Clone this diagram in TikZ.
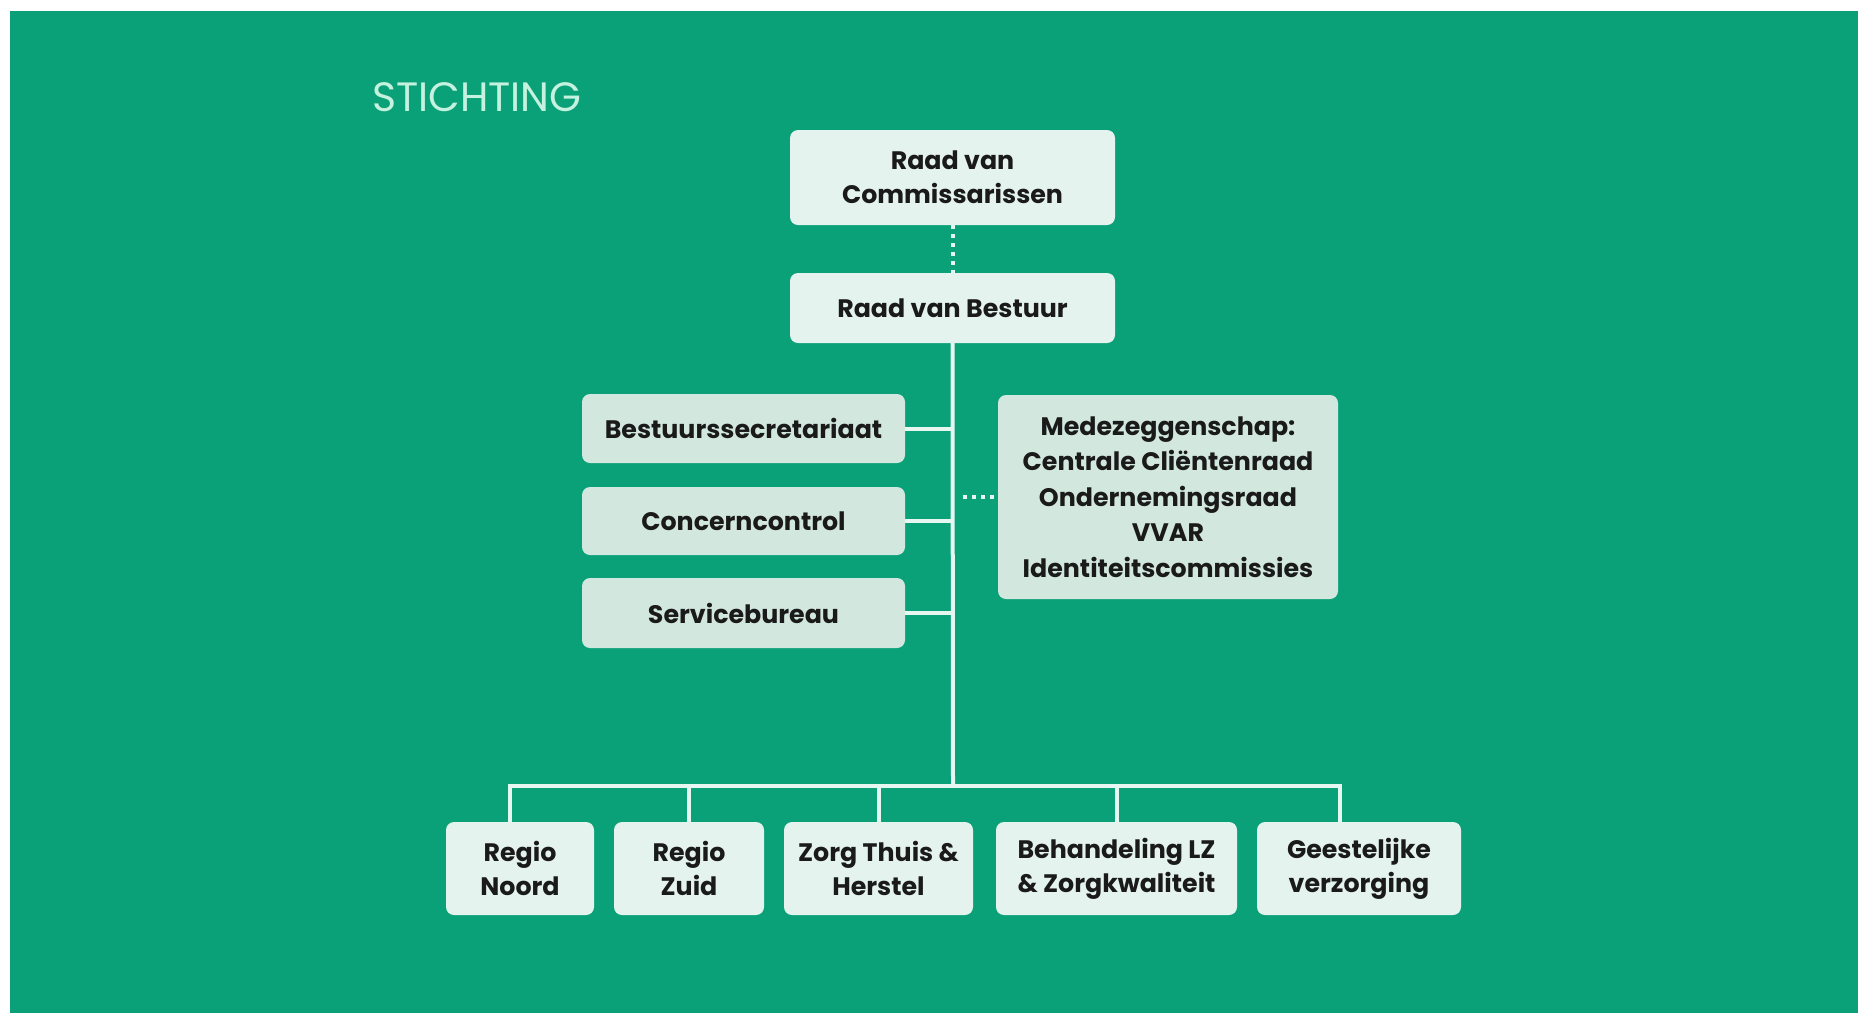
\documentclass[tikz,border=0pt]{standalone}
\usepackage{fontspec}
\setmainfont{Poppins}
\definecolor{bggreen}{HTML}{0AA078}
\definecolor{boxA}{HTML}{E4F3EE}
\definecolor{boxB}{HTML}{D2E8DF}
\definecolor{linec}{HTML}{E6F7F1}
\definecolor{titlec}{HTML}{C4F2DF}
\definecolor{txt}{HTML}{1A1A1A}
\tikzset{
  orgbox/.style={fill=boxA, rounded corners=8pt, align=center, text=txt, inner sep=0pt,
    font=\bfseries\fontsize{25.3}{34}\selectfont},
  orgboxB/.style={orgbox, fill=boxB},
  conn/.style={draw=linec, line width=4pt},
  dotconn/.style={draw=linec, line width=4pt, dash pattern=on 4pt off 5pt}
}
\begin{document}
\begin{tikzpicture}[x=1pt,y=-1pt]
\useasboundingbox (0,0) rectangle (1858,1013);
\fill[white] (0,0) rectangle (1858,1013);
\fill[bggreen] (10,11) rectangle (1858,1013);

\node[anchor=base west, text=titlec, font=\fontsize{41}{46}\selectfont, inner sep=0pt] (title) at (372,111) {STICHTING};

\node[orgbox, minimum width=325pt, minimum height=95pt] (rvc) at (952.5,177.5) {Raad van\\Commissarissen};
\node[orgbox, minimum width=325pt, minimum height=70pt] (rvb) at (952.5,308) {Raad van Bestuur};

\node[orgboxB, minimum width=323pt, minimum height=69pt] (bs) at (743.5,428.5) {Bestuurssecretariaat};
\node[orgboxB, minimum width=323pt, minimum height=68pt] (cc) at (743.5,521) {Concerncontrol};
\node[orgboxB, minimum width=323pt, minimum height=70pt] (sb) at (743.5,613) {Servicebureau};

\node[orgboxB, minimum width=340pt, minimum height=204pt, font=\bfseries\fontsize{25.3}{35.5}\selectfont] (mz) at (1168,497)
  {Medezeggenschap:\\Centrale Cliëntenraad\\Ondernemingsraad\\VVAR\\Identiteitscommissies};

\node[orgbox, minimum width=148pt, minimum height=93pt] (noord) at (520,868.5) {Regio\\Noord};
\node[orgbox, minimum width=150pt, minimum height=93pt] (zuid) at (689,868.5) {Regio\\Zuid};
\node[orgbox, minimum width=189pt, minimum height=93pt] (zorg) at (878.5,868.5) {Zorg Thuis \&\\Herstel};
\node[orgbox, minimum width=241pt, minimum height=93pt] (beh) at (1116.5,868.5) {Behandeling LZ\\\& Zorgkwaliteit};
\node[orgbox, minimum width=204pt, minimum height=93pt] (gees) at (1359,868.5) {Geestelijke\\verzorging};

\coordinate (trunkEnd) at (953,786);
\coordinate (barL) at (510,786);
\coordinate (barR) at (1340,786);
\coordinate (dotStart) at (963,497);

\draw[dotconn] (rvc.south) -- (rvb.north);
\draw[conn] (rvb.south) -- (trunkEnd);
\draw[conn] (bs.east) -- (bs.east -| rvb.south);
\draw[conn] (cc.east) -- (cc.east -| rvb.south);
\draw[conn] (sb.east) -- (sb.east -| rvb.south);
\draw[dotconn] (dotStart) -- (dotStart -| mz.west);

\draw[conn, line cap=rect] (barL) -- (barR);
\draw[conn] (barL) -- (barL |- noord.north);
\draw[conn] (zuid.north |- barL) -- (zuid.north);
\draw[conn] (zorg.north |- barL) -- (zorg.north);
\draw[conn] (beh.north |- barL) -- (beh.north);
\draw[conn] (barR) -- (barR |- gees.north);
\end{tikzpicture}
\end{document}
